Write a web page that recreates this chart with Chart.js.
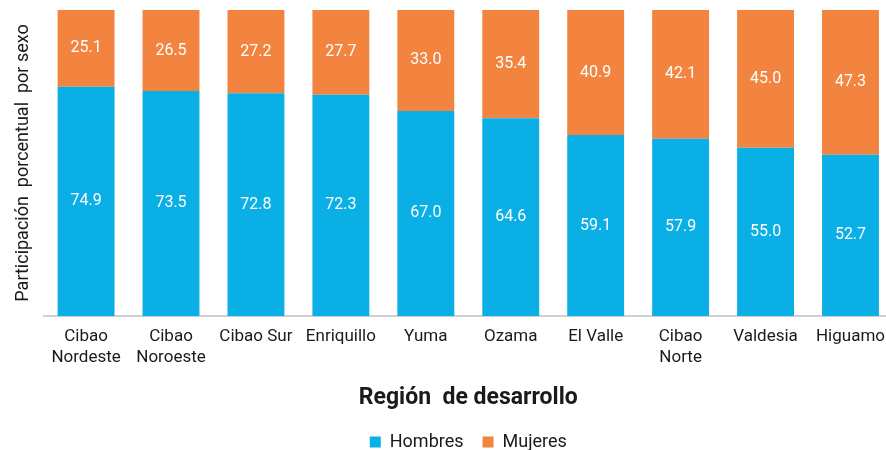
<!DOCTYPE html>
<html>
<head>
<meta charset="utf-8">
<script src="https://cdn.jsdelivr.net/npm/chart.js@4"></script>
<style>
    html, body { margin: 0; padding: 0; background: #ffffff; }
    #wrap { width: 886px; height: 450px; overflow: hidden; position: relative; }
    #box { width: 895px; height: 461px; position: absolute; left: 0; top: 0; }
</style>
</head>
<body>
<div id="wrap"><div id="box"><canvas id="sexChart"></canvas></div></div>
<script>
(function () {
    'use strict';

    const REGIONS = [
        ['Cibao', 'Nordeste'],
        ['Cibao', 'Noroeste'],
        'Cibao Sur',
        'Enriquillo',
        'Yuma',
        'Ozama',
        'El Valle',
        ['Cibao', 'Norte'],
        'Valdesia',
        'Higuamo',
    ];
    const HOMBRES = [74.9, 73.5, 72.8, 72.3, 67.0, 64.6, 59.1, 57.9, 55.0, 52.7];
    const MUJERES = [25.1, 26.5, 27.2, 27.7, 33.0, 35.4, 40.9, 42.1, 45.0, 47.3];

    const COLORS = {
        hombres: '#0AAFE5',
        mujeres: '#F3843F',
        text: '#1a1a1a',
        axis: '#d0d0d0',
    };

    const FAMILY = "Roboto, 'Noto Sans', Arial, sans-serif";
    const tickFont = { family: FAMILY, size: 17, lineHeight: 1.25 };

    // values written in the middle of each segment
    const segmentLabels = {
        id: 'segmentLabels',
        afterDatasetsDraw(chart) {
            const ctx = chart.ctx;
            ctx.save();
            ctx.fillStyle = '#ffffff';
            ctx.font = '16px ' + FAMILY;
            ctx.textAlign = 'center';
            ctx.textBaseline = 'middle';
            chart.data.datasets.forEach((ds, i) => {
                chart.getDatasetMeta(i).data.forEach((bar, j) => {
                    const mid = (bar.y + bar.base) / 2;
                    ctx.fillText(ds.data[j].toFixed(1), bar.x, mid);
                });
            });
            ctx.restore();
        },
    };

    new Chart(document.getElementById('sexChart'), {
        type: 'bar',
        data: {
            labels: REGIONS,
            datasets: [
                {
                    label: 'Hombres',
                    data: HOMBRES,
                    backgroundColor: COLORS.hombres,
                    categoryPercentage: 1,
                    barPercentage: 0.67,
                },
                {
                    label: 'Mujeres',
                    data: MUJERES,
                    backgroundColor: COLORS.mujeres,
                    categoryPercentage: 1,
                    barPercentage: 0.67,
                },
            ],
        },
        options: {
            responsive: true,
            maintainAspectRatio: false,
            animation: false,
            layout: { padding: { top: 10, left: 0, right: 0, bottom: 0 } },
            plugins: {
                legend: {
                    position: 'bottom',
                    fullSize: false,
                    labels: {
                        color: COLORS.text,
                        font: { family: FAMILY, size: 18 },
                        boxWidth: 11,
                        boxHeight: 11,
                        padding: 19,
                    },
                },
                tooltip: { enabled: false },
            },
            scales: {
                x: {
                    stacked: true,
                    grid: { display: false, drawTicks: false },
                    border: { color: COLORS.axis, width: 2 },
                    ticks: {
                        color: COLORS.text,
                        font: tickFont,
                        maxRotation: 0,
                        autoSkip: false,
                        padding: 10,
                    },
                    title: {
                        display: true,
                        text: 'Región  de desarrollo',
                        color: COLORS.text,
                        font: { family: FAMILY, size: 23, weight: 'bold' },
                        padding: { top: 6, bottom: 2 },
                    },
                },
                y: {
                    stacked: true,
                    min: 0,
                    max: 100,
                    grid: { display: false, drawTicks: false },
                    border: { display: false },
                    ticks: { display: false },
                    title: {
                        display: true,
                        text: 'Participación  porcentual  por sexo',
                        color: COLORS.text,
                        font: { family: FAMILY, size: 18 },
                        padding: { top: 13, bottom: 9 },
                    },
                },
            },
        },
        plugins: [segmentLabels],
    });
})();
</script>
</body>
</html>
